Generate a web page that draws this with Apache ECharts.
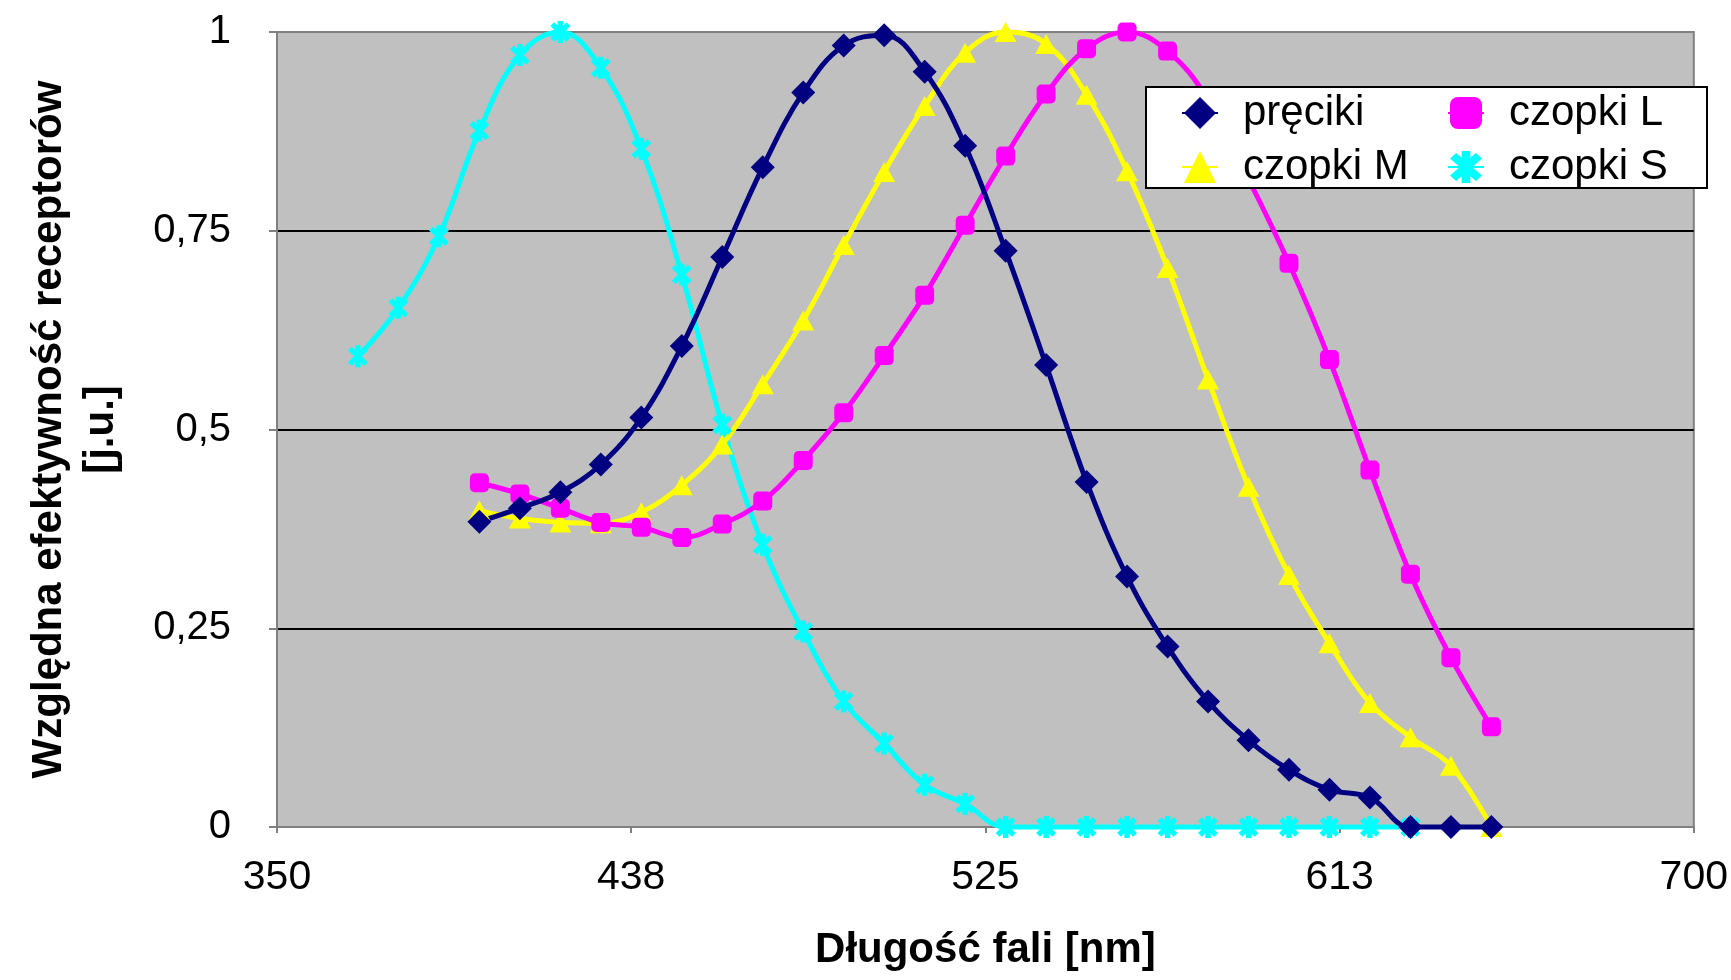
<!DOCTYPE html>
<html>
<head>
<meta charset="utf-8">
<title>Względna efektywność receptorów</title>
<script src="https://cdn.jsdelivr.net/npm/echarts@6/dist/echarts.min.js"></script>
<style>
	html, body { margin: 0; padding: 0; background: #fff; }
	#chart { width: 1731px; height: 980px; }
</style>
</head>
<body>
<div id="chart"></div>
<script>
// długości fali [nm]
var wavelengths = [400, 410, 420, 430, 440, 450, 460, 470, 480, 490, 500, 510, 520,
	530, 540, 550, 560, 570, 580, 590, 600, 610, 620, 630, 640, 650];
var wavelengthsS = [370, 380, 390, 400, 410, 420, 430, 440, 450, 460, 470, 480, 490,
	500, 510, 520, 530, 540, 550, 560, 570, 580, 590, 600, 610, 620, 630];

// względna efektywność
var preciki = [0.384, 0.401, 0.421, 0.456, 0.515, 0.605, 0.717, 0.830, 0.924, 0.983,
	0.996, 0.950, 0.857, 0.725, 0.581, 0.434, 0.315, 0.227, 0.158, 0.109,
	0.072, 0.047, 0.037, 0, 0, 0];
var czopkiL = [0.433, 0.419, 0.401, 0.383, 0.377, 0.364, 0.381, 0.410, 0.461, 0.521,
	0.593, 0.669, 0.757, 0.844, 0.922, 0.979, 1.0, 0.976, 0.915, 0.815,
	0.709, 0.588, 0.449, 0.318, 0.213, 0.126];
var czopkiM = [0.398, 0.388, 0.383, 0.382, 0.396, 0.430, 0.481, 0.557, 0.637, 0.732,
	0.824, 0.907, 0.974, 1.0, 0.985, 0.921, 0.825, 0.703, 0.563, 0.428,
	0.317, 0.231, 0.156, 0.113, 0.077, 0];
var czopkiS = [0.592, 0.653, 0.743, 0.876, 0.971, 1.0, 0.955, 0.853, 0.695, 0.506,
	0.355, 0.246, 0.158, 0.105, 0.053, 0.029, 0, 0, 0, 0,
	0, 0, 0, 0, 0, 0, 0];

var xTicks = [350, 438, 525, 613, 700];
var yTicks = ['0', '0,25', '0,5', '0,75', '1'];

var FONT = '"Liberation Sans", Arial, Helvetica, sans-serif';

// gwiazdka (jak w Excelu)
var STAR = 'path://M1.2,5 L-1.2,5 L-1.2,-5 L1.2,-5 Z' +
	'M4.39,2.69 L2.69,4.39 L-4.39,-2.69 L-2.69,-4.39 Z' +
	'M2.69,-4.39 L4.39,-2.69 L-2.69,4.39 L-4.39,2.69 Z';

function pairs(xs, ys){
	var out = [];
	for (var i = 0; i < xs.length; i++) out.push([xs[i], ys[i]]);
	return out;
}

function lineSeries(name, xs, ys, color, symbol, size){
	return {
		name: name,
		type: 'line',
		smooth: 0.4,
		data: pairs(xs, ys),
		symbol: symbol,
		symbolSize: size,
		showAllSymbol: true,
		clip: false,
		lineStyle: { color: color, width: 5 },
		itemStyle: { color: color },
		emphasis: { disabled: true }
	};
}

// legenda w dwóch kolumnach
function legendColumn(names, left){
	return {
		data: names,
		left: left, top: 92,
		orient: 'vertical',
		padding: 0,
		itemWidth: 36,
		itemHeight: 40,
		itemGap: 12,
		selectedMode: false,
		z: 20,
		textStyle: { fontFamily: FONT, fontSize: 42, color: '#000', padding: [0, 0, 0, 20] }
	};
}

var chart = echarts.init(document.getElementById('chart'));
var option = {
	backgroundColor: '#ffffff',
	animation: false,
	textStyle: { fontFamily: FONT },
	grid: {
		left: 277, right: 37, top: 32, bottom: 153,
		show: true,
		backgroundColor: '#c0c0c0',
		borderColor: '#808080',
		borderWidth: 2
	},
	graphic: [{
		type: 'rect',
		shape: { x: 1146, y: 87, width: 561, height: 101 },
		style: { fill: '#ffffff', stroke: '#000000', lineWidth: 2 },
		z: 10
	}],
	legend: [
		legendColumn(['pręciki', 'czopki M'], 1181),
		legendColumn(['czopki L', 'czopki S'], 1447)
	],
	xAxis: {
		type: 'value',
		min: 350, max: 700, interval: 87.5,
		name: 'Długość fali [nm]',
		nameLocation: 'middle',
		nameGap: 102,
		nameTextStyle: { fontFamily: FONT, fontSize: 42, fontWeight: 'bold', color: '#000' },
		axisLine: { show: true, lineStyle: { color: '#808080', width: 2 } },
		axisTick: { show: true, length: 6, lineStyle: { color: '#808080', width: 2 } },
		axisLabel: {
			fontFamily: FONT, fontSize: 41, color: '#000', margin: 30,
			formatter: function(v){
				var i = Math.round((v - 350) / 87.5);
				return xTicks[i] !== undefined ? String(xTicks[i]) : '';
			}
		},
		splitLine: { show: false }
	},
	yAxis: {
		type: 'value',
		min: 0, max: 1, interval: 0.25,
		name: 'Względna efektywność receptorów\n[j.u.]',
		nameLocation: 'middle',
		nameRotate: 90,
		nameGap: 150,
		nameTextStyle: {
			fontFamily: FONT, fontSize: 42, fontWeight: 'bold', color: '#000',
			lineHeight: 52, align: 'center'
		},
		axisLine: { show: true, lineStyle: { color: '#808080', width: 2 } },
		axisTick: { show: true, length: 8, lineStyle: { color: '#808080', width: 2 } },
		axisLabel: {
			fontFamily: FONT, fontSize: 40, color: '#000', margin: 46,
			formatter: function(v){
				return yTicks[Math.round(v / 0.25)];
			}
		},
		splitLine: {
			show: true, showMinLine: false, showMaxLine: false,
			lineStyle: { color: '#000', width: 2 }
		}
	},
	series: [
		lineSeries('czopki S', wavelengthsS, czopkiS, '#00ffff', STAR, [20, 22]),
		lineSeries('czopki M', wavelengths, czopkiM, '#ffff00', 'triangle', [22, 20]),
		lineSeries('czopki L', wavelengths, czopkiL, '#ff00ff', 'roundRect', 19),
		lineSeries('pręciki', wavelengths, preciki, '#000080', 'diamond', 24)
	]
};
chart.setOption(option);
</script>
</body>
</html>
